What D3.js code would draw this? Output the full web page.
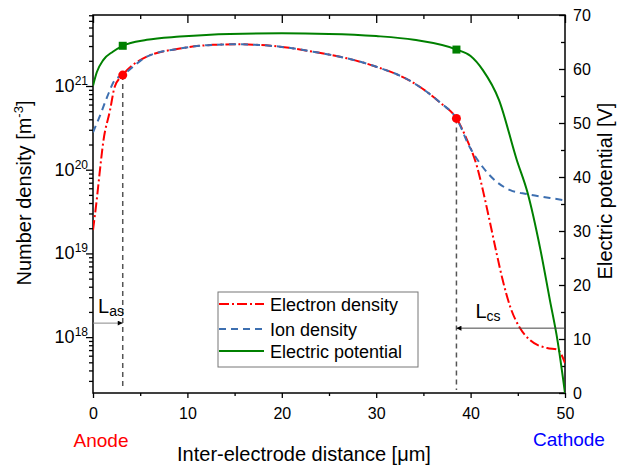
<!DOCTYPE html>

<head>
    <meta charset="utf-8">
    <script src="https://d3js.org/d3.v7.min.js"></script>
    <style>
        body {
            margin: 0;
            background: #fff;
            font-family: "Liberation Sans", Arial, sans-serif;
        }
        .axis text {
            font-size: 16px;
            font-family: "Liberation Sans", Arial, sans-serif;
            fill: #000;
        }
        .axis line {
            stroke: #000;
            stroke-width: 1.3px;
        }
        .axis path.domain {
            display: none;
        }
        .title {
            font-size: 20px;
        }
    </style>
</head>

<body>
<div id="chart"></div>
<script>
    // inter-electrode distance [um] and electric potential [V]
    var potX = [0, 0.4, 1.1, 2.1, 3.15, 5.7, 9.2, 14.5, 20, 25, 30, 34, 38.5, 40, 41.3, 43, 44.9, 46, 47.4, 48.4, 49.2, 50];
    var potV = [56.9, 59.4, 61.7, 63.2, 64.3, 65.4, 66.0, 66.5, 66.6, 66.5, 66.1, 65.4, 63.6, 62.4, 59.8, 54.3, 43.1, 37.3, 26.5, 17.2, 9.8, 0];

    // ion density [m^-3]
    var ionX = [0, 0.7, 1.5, 2.3, 3.15, 5.7, 9.2, 12.7, 15.2, 19.8, 23.3, 26.9, 30, 33.9, 36.8, 38.5, 39.9, 41.3, 42.8, 44.2, 46, 48.4, 50];
    var ionN = [2.8e20, 4.3e20, 7.4e20, 1.17e21, 1.35e21, 2.24e21, 2.8e21, 3.1e21, 3.15e21, 2.95e21, 2.57e21, 2.14e21, 1.7e21, 1.1e21, 6.3e20, 4.1e20, 1.87e20, 1.07e20, 7.1e19, 5.7e19, 5.1e19, 4.6e19, 4.3e19];

    // electron density [m^-3]
    var eleX = [0, 0.4, 0.7, 1.1, 1.8, 2.3, 3.15, 5.7, 9.2, 12.7, 15.2, 19.8, 23.3, 26.9, 30, 33.9, 36.8, 38.5, 39.6, 40.7, 41.3, 42.0, 42.8, 43.4, 44.2, 45.2, 46.3, 48.1, 49.2, 50];
    var eleN = [1.9e19, 4.4e19, 9.1e19, 2.2e20, 5.1e20, 9.8e20, 1.35e21, 2.24e21, 2.8e21, 3.1e21, 3.15e21, 2.95e21, 2.57e21, 2.14e21, 1.7e21, 1.1e21, 6.3e20, 4.1e20, 2.3e20, 1.07e20, 5.7e19, 2.5e19, 9.5e18, 4.8e18, 2.3e18, 1.3e18, 9.2e17, 7.4e17, 7.1e17, 4.9e17];

    // sheath edges (anode / cathode)
    var sheathX = [3.15, 38.5];
    var sheathN = [1.35e21, 4.1e20];
    var sheathV = [64.3, 63.6];
    var sheathNames = ["as", "cs"];
    var arrowN = [1.47e18, 1.28e18];

    var xTicks = [0, 10, 20, 30, 40, 50];
    var xMinor = [5, 15, 25, 35, 45];
    var vTicks = [0, 10, 20, 30, 40, 50, 60, 70];
    var vMinor = [5, 15, 25, 35, 45, 55, 65];
    var nTicks = [1e18, 1e19, 1e20, 1e21];

    var width = 617, height = 466;
    var plotL = 93, plotR = 565, plotT = 15, plotB = 393;

    var svg = d3.select("#chart").append("svg")
        .attr("width", width)
        .attr("height", height);

    var x = d3.scaleLinear().domain([0, 50]).range([plotL, plotR]);
    var y = d3.scaleLog().domain([2.15e17, 7.05e21]).range([plotB, plotT]);
    var v = d3.scaleLinear().domain([0, 70]).range([plotB, plotT]);

    // log minor ticks 2..9 in each decade
    var nMinor = [];
    for (var e = 17; e <= 21; e++) {
        for (var k = 2; k <= 9; k++) {
            var val = k * Math.pow(10, e);
            if (val >= y.domain()[0] && val <= y.domain()[1]) nMinor.push(val);
        }
    }

    // bottom axis (outward ticks)
    svg.append("g").attr("class", "axis")
        .attr("transform", "translate(0," + plotB + ")")
        .call(d3.axisBottom(x).tickValues(xTicks).tickSize(5).tickPadding(10).tickSizeOuter(0));
    svg.append("g").attr("class", "axis")
        .attr("transform", "translate(0," + plotB + ")")
        .call(d3.axisBottom(x).tickValues(xMinor).tickSize(3).tickFormat("").tickSizeOuter(0));

    // top axis (inward ticks)
    svg.append("g").attr("class", "axis")
        .attr("transform", "translate(0," + plotT + ")")
        .call(d3.axisTop(x).tickValues(xTicks).tickSize(-8).tickFormat("").tickSizeOuter(0));
    svg.append("g").attr("class", "axis")
        .attr("transform", "translate(0," + plotT + ")")
        .call(d3.axisTop(x).tickValues(xMinor).tickSize(-4).tickFormat("").tickSizeOuter(0));

    // left log axis
    svg.append("g").attr("class", "axis")
        .attr("transform", "translate(" + plotL + ",0)")
        .call(d3.axisLeft(y).tickValues(nTicks).tickSize(7).tickFormat("").tickSizeOuter(0));
    svg.append("g").attr("class", "axis")
        .attr("transform", "translate(" + plotL + ",0)")
        .call(d3.axisLeft(y).tickValues(nMinor).tickSize(4).tickFormat("").tickSizeOuter(0));

    var nLabels = svg.append("g").attr("class", "axis")
        .selectAll("text")
        .data(nTicks)
        .enter().append("text")
        .attr("x", plotL - 5)
        .attr("y", function (d) { return y(d) + 6; })
        .attr("text-anchor", "end")
        .style("font-size", "18px")
        .text("10");
    nLabels.append("tspan")
        .attr("dy", -7)
        .style("font-size", "12px")
        .text(function (d) { return Math.round(Math.log10(d)); });

    // right axis (inward ticks)
    svg.append("g").attr("class", "axis")
        .attr("transform", "translate(" + plotR + ",0)")
        .call(d3.axisRight(v).tickValues(vTicks).tickSize(-6).tickPadding(8).tickSizeOuter(0));
    svg.append("g").attr("class", "axis")
        .attr("transform", "translate(" + plotR + ",0)")
        .call(d3.axisRight(v).tickValues(vMinor).tickSize(-4).tickFormat("").tickSizeOuter(0));

    // frame
    svg.append("rect")
        .attr("x", plotL).attr("y", plotT)
        .attr("width", plotR - plotL).attr("height", plotB - plotT)
        .attr("fill", "none")
        .attr("stroke", "#000")
        .attr("stroke-width", 1.5);

    svg.append("defs").append("clipPath").attr("id", "plot")
        .append("rect")
        .attr("x", plotL).attr("y", plotT)
        .attr("width", plotR - plotL).attr("height", plotB - plotT);

    var plot = svg.append("g").attr("clip-path", "url(#plot)");

    var densLine = d3.line()
        .x(function (d) { return x(d[0]); })
        .y(function (d) { return y(d[1]); })
        .curve(d3.curveMonotoneX);
    var potLine = d3.line()
        .x(function (d) { return x(d[0]); })
        .y(function (d) { return v(d[1]); })
        .curve(d3.curveMonotoneX);

    // sheath edge guides
    plot.selectAll(".guide")
        .data(sheathX)
        .enter().append("line")
        .attr("x1", function (d) { return x(d); })
        .attr("x2", function (d) { return x(d); })
        .attr("y1", function (d, i) { return y(sheathN[i]); })
        .attr("y2", plotB - 3)
        .attr("stroke", "#555")
        .attr("stroke-width", 1.5)
        .attr("stroke-dasharray", "5,4");

    plot.append("path")
        .datum(d3.zip(eleX, eleN))
        .attr("d", densLine)
        .attr("fill", "none")
        .attr("stroke", "#ff0000")
        .attr("stroke-width", 2)
        .attr("stroke-dasharray", "10,3,2,3");

    plot.append("path")
        .datum(d3.zip(ionX, ionN))
        .attr("d", densLine)
        .attr("fill", "none")
        .attr("stroke", "#3d6fb0")
        .attr("stroke-width", 2)
        .attr("stroke-dasharray", "7,5");

    plot.append("path")
        .datum(d3.zip(potX, potV))
        .attr("d", potLine)
        .attr("fill", "none")
        .attr("stroke", "#008000")
        .attr("stroke-width", 2);

    // markers
    svg.selectAll(".sq")
        .data(sheathX)
        .enter().append("rect")
        .attr("x", function (d) { return x(d) - 4; })
        .attr("y", function (d, i) { return v(sheathV[i]) - 4; })
        .attr("width", 8).attr("height", 8)
        .attr("fill", "#008000");
    svg.selectAll(".dot")
        .data(sheathX)
        .enter().append("circle")
        .attr("cx", function (d) { return x(d); })
        .attr("cy", function (d, i) { return y(sheathN[i]); })
        .attr("r", 4.5)
        .attr("fill", "#ff0000");

    // sheath length arrows
    svg.append("defs").append("marker")
        .attr("id", "head")
        .attr("viewBox", "0 0 10 10")
        .attr("refX", 10).attr("refY", 5)
        .attr("markerWidth", 9).attr("markerHeight", 5)
        .attr("markerUnits", "userSpaceOnUse")
        .attr("orient", "auto")
        .append("path")
        .attr("d", "M0,0L10,5L0,10Z")
        .attr("fill", "#000");

    var ends = [0, 50];
    svg.selectAll(".arrow")
        .data(sheathX)
        .enter().append("line")
        .attr("x1", function (d, i) { return x(ends[i]); })
        .attr("x2", function (d) { return x(d); })
        .attr("y1", function (d, i) { return y(arrowN[i]); })
        .attr("y2", function (d, i) { return y(arrowN[i]); })
        .attr("stroke", function (d, i) { return i === 0 ? "#888" : "#444"; })
        .attr("stroke-width", 1)
        .attr("marker-end", "url(#head)");

    var lab = svg.selectAll(".slab")
        .data(sheathX)
        .enter().append("text")
        .attr("x", function (d, i) { return i === 0 ? x(0) + 5 : x(d) + 19; })
        .attr("y", function (d, i) { return y(arrowN[i]) - 10; })
        .style("font-size", "20px")
        .text("L");
    lab.append("tspan")
        .attr("dy", 3)
        .style("font-size", "14px")
        .text(function (d, i) { return sheathNames[i]; });

    // axis titles
    svg.append("text").attr("class", "title")
        .attr("x", 304).attr("y", 461)
        .attr("text-anchor", "middle")
        .text("Inter-electrode distance [\u03bcm]");

    svg.append("text").attr("class", "title")
        .attr("x", x(0) + 8).attr("y", 447)
        .attr("text-anchor", "middle")
        .attr("fill", "#ff0000")
        .style("font-size", "19px")
        .text("Anode");
    svg.append("text").attr("class", "title")
        .attr("x", x(50) + 4).attr("y", 446)
        .attr("text-anchor", "middle")
        .attr("fill", "#0000ff")
        .style("font-size", "19px")
        .text("Cathode");

    var yt = svg.append("text").attr("class", "title")
        .attr("transform", "translate(31,193) rotate(-90)")
        .attr("text-anchor", "middle")
        .text("Number density [m");
    yt.append("tspan").attr("dy", -8).style("font-size", "13px").text("-3");
    yt.append("tspan").attr("dy", 8).text("]");

    svg.append("text").attr("class", "title")
        .attr("transform", "translate(612,191) rotate(-90)")
        .attr("text-anchor", "middle")
        .text("Electric potential [V]");

    // legend
    var legNames = ["Electron density", "Ion density", "Electric potential"];
    var legColors = ["#ff0000", "#3d6fb0", "#008000"];
    var legDash = ["10,3,2,3", "7,5", null];
    var legY = [304, 329, 351];

    var legend = svg.append("g");
    legend.append("rect")
        .attr("x", 218).attr("y", 292)
        .attr("width", 200).attr("height", 75)
        .attr("fill", "#fff")
        .attr("stroke", "#777")
        .attr("stroke-width", 1);
    legend.selectAll("line")
        .data(legNames)
        .enter().append("line")
        .attr("x1", 219).attr("x2", 264)
        .attr("y1", function (d, i) { return legY[i]; })
        .attr("y2", function (d, i) { return legY[i]; })
        .attr("stroke", function (d, i) { return legColors[i]; })
        .attr("stroke-width", 2)
        .attr("stroke-dasharray", function (d, i) { return legDash[i]; });
    legend.selectAll("text")
        .data(legNames)
        .enter().append("text")
        .attr("x", 270)
        .attr("y", function (d, i) { return legY[i] + 7; })
        .style("font-size", "18px")
        .text(function (d) { return d; });
</script>
</body>
